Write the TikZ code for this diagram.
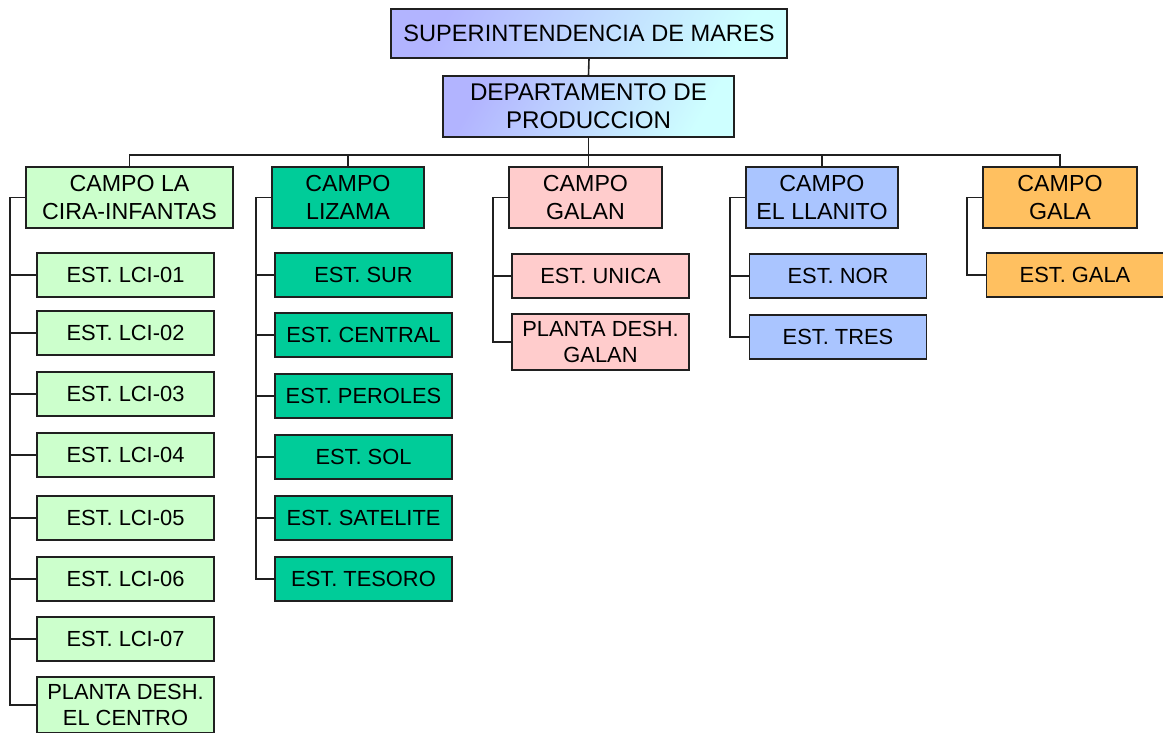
\documentclass[tikz,border=0pt]{standalone}
\usepackage{fontspec}
\setmainfont{Liberation Sans}
\definecolor{cira}{HTML}{CCFFCC}
\definecolor{lizama}{HTML}{00CC99}
\definecolor{galan}{HTML}{FFCCCC}
\definecolor{llanito}{HTML}{AAC5FF}
\definecolor{gala}{HTML}{FFC060}
\definecolor{gradlo}{RGB}{178,180,255}
\definecolor{gradhi}{RGB}{206,255,255}
\definecolor{edge}{HTML}{202020}
\tikzset{
  box/.style={draw=edge, line width=1.2pt, rectangle, inner sep=0pt, align=center},
  headbox/.style={box, left color=gradlo, right color=gradhi, shading angle=60},
  campobox/.style={box, minimum height=45.75pt, font=\fontsize{17.4}{21}\selectfont},
  estbox/.style={box, minimum width=132.75pt, minimum height=33pt,
    font=\fontsize{16.4}{19.5}\selectfont},
  link/.style={draw=edge, line width=1.2pt},
}
\begin{document}
\begin{tikzpicture}[x=0.75pt, y=-0.75pt]
\useasboundingbox (0,0) rectangle (1163,732);

% management
\node[headbox, minimum width=297pt, minimum height=36.75pt, font=\fontsize{17.7}{21}\selectfont]
  (sup) at (589,33.5) {SUPERINTENDENCIA DE MARES};
\node[headbox, minimum width=218.25pt, minimum height=45.75pt, font=\fontsize{18.1}{21}\selectfont]
  (dep) at (588.5,106.5) {DEPARTAMENTO DE\\PRODUCCION};

% fields
\node[campobox, fill=cira, minimum width=155.25pt] (cira) at (129.5,197.5) {CAMPO LA\\CIRA-INFANTAS};
\node[campobox, fill=lizama, minimum width=114pt] (liz) at (348,197.5) {CAMPO\\LIZAMA};
\node[campobox, fill=galan, minimum width=114.75pt] (gal) at (585.5,197.5) {CAMPO\\GALAN};
\node[campobox, fill=llanito, minimum width=114pt] (lla) at (822,197.5) {CAMPO\\EL LLANITO};
\node[campobox, fill=gala, minimum width=115.5pt] (gla) at (1060,197.5) {CAMPO\\GALA};

% La Cira-Infantas stations
\node[estbox, fill=cira] (c1) at (125.5,275) {EST. LCI-01};
\node[estbox, fill=cira] (c2) at (125.5,333) {EST. LCI-02};
\node[estbox, fill=cira] (c3) at (125.5,394) {EST. LCI-03};
\node[estbox, fill=cira] (c4) at (125.5,455) {EST. LCI-04};
\node[estbox, fill=cira] (c5) at (125.5,518) {EST. LCI-05};
\node[estbox, fill=cira] (c6) at (125.5,579) {EST. LCI-06};
\node[estbox, fill=cira] (c7) at (125.5,639) {EST. LCI-07};
\node[estbox, fill=cira, minimum height=42pt] (c8) at (125.5,705) {PLANTA DESH.\\EL CENTRO};

% Lizama stations
\node[estbox, fill=lizama] (z1) at (363.5,275) {EST. SUR};
\node[estbox, fill=lizama] (z2) at (363.5,335) {EST. CENTRAL};
\node[estbox, fill=lizama] (z3) at (363.5,396) {EST. PEROLES};
\node[estbox, fill=lizama] (z4) at (363.5,457) {EST. SOL};
\node[estbox, fill=lizama] (z5) at (363.5,518) {EST. SATELITE};
\node[estbox, fill=lizama] (z6) at (363.5,579) {EST. TESORO};

% Galan stations
\node[estbox, fill=galan] (g1) at (600.5,276) {EST. UNICA};
\node[estbox, fill=galan, minimum height=42pt] (g2) at (600.5,342) {PLANTA DESH.\\GALAN};

% El Llanito stations
\node[estbox, fill=llanito] (l1) at (838,276) {EST. NOR};
\node[estbox, fill=llanito] (l2) at (838,337) {EST. TRES};

% Gala station
\node[estbox, fill=gala] (a1) at (1075,275) {EST. GALA};

% hierarchy links
\draw[link] (sup.south) -- (dep.north);
\draw[link] (dep.south) -- (dep.south |- gal.north);
\foreach \f in {cira,liz,lla,gla}
  \draw[link] (dep.south) -- ++(0,17) -| (\f.north);

\foreach \f/\list in {cira/{c1,c2,c3,c4,c5,c6,c7,c8}, liz/{z1,z2,z3,z4,z5,z6},
                      gal/{g1,g2}, lla/{l1,l2}, gla/{a1}}
  \foreach \s in \list
    \draw[link] (\f.west) -- ++(-15,0) |- (\s.west);
\end{tikzpicture}
\end{document}
